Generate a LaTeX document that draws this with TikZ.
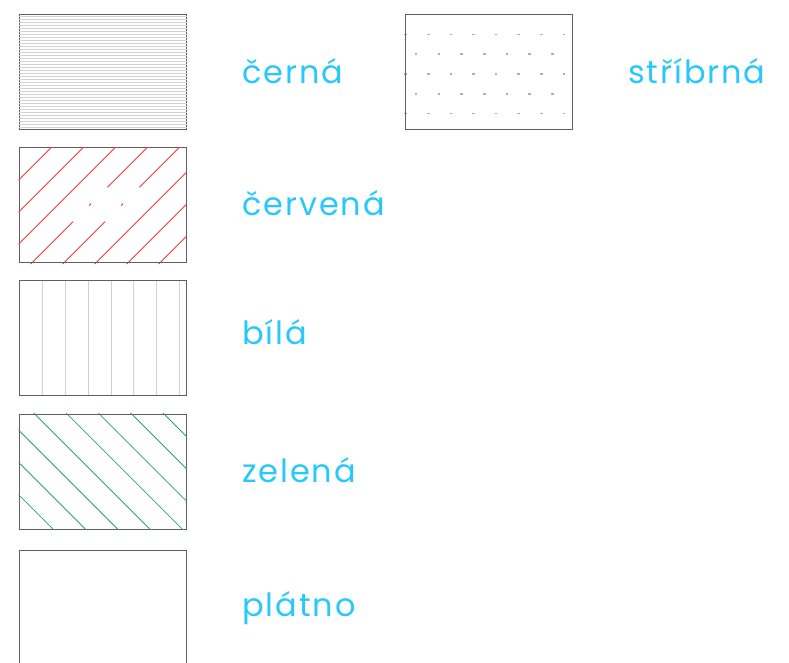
\documentclass[tikz,border=0pt]{standalone}
\usepackage{fontspec}
\setmainfont{Poppins}
\usetikzlibrary{positioning}
\definecolor{popis}{RGB}{40,200,250}
\definecolor{ramec}{RGB}{95,95,95}
\definecolor{cervenacara}{RGB}{255,50,50}
\definecolor{zelenacara}{RGB}{50,155,110}
\definecolor{svetla}{RGB}{210,210,210}
\definecolor{tecka}{RGB}{175,175,175}

\begin{document}
\begin{tikzpicture}[x=1pt,y=-1pt]
  \tikzstyle{box}=[draw=ramec,line width=1pt,minimum width=167pt,minimum height=115pt,inner sep=0pt]
  \tikzstyle{popisek}=[text=popis,font=\fontsize{32}{32}\selectfont\addfontfeature{LetterSpace=6},anchor=base west,inner sep=0pt]
  \useasboundingbox (0,0) rectangle (789,662);
  % stribrna
  \foreach \r in {0,1,2} {
    \foreach \i in {0,...,6}
      \draw[tecka,line width=1.3pt] ({414.8+22.7*\i},{14.3+39.8*\r}) -- ++(2.6,0);
    \foreach \i in {0,...,7}
      \draw[tecka,line width=1.3pt] ({404.4+22.6*\i},{34.2+39.8*\r}) -- ++(2.6,0);
  }
  \node[box] (stribrnabox) at (488.5,71.5) {};
  \node[box] (cernabox) at (102.5,71.5) {};
  \node[box] (cervenabox) at (102.5,205) {};
  \node[box] (bilabox) at (102.5,338) {};
  \node[box] (zelenabox) at (102.5,471.5) {};
  \node[box] (platnobox) at (102.5,607.5) {};
  % cerna
  \foreach \y in {16.5,19.5,...,127.5}
    \draw[gray!35,line width=0.6pt] (cernabox.west |- 0,\y) -- (cernabox.east |- 0,\y);
  % cervena
  \begin{scope}
    \clip (cervenabox.south west) rectangle (cervenabox.north east);
    \foreach \c in {198.7,230.7,262.7,358.7,390.7,422.7}
      \draw[cervenacara,line width=0.8pt] (\c-140,140) -- (\c-270,270);
    \foreach \c in {294.7,326.7}
      \draw[cervenacara,line width=0.8pt] (\c-140,140) -- (\c-187.3,187.3)
        (\c-203.5,203.5) -- (\c-205.5,205.5) (\c-221.7,221.7) -- (\c-270,270);
  \end{scope}
  % bila
  \foreach \i in {0,...,6}
    \draw[svetla,line width=1pt] ({42.7+22.8*\i},281) -- ({42.7+22.8*\i},395);
  % zelena
  \begin{scope}
    \clip (zelenabox.south west) rectangle (zelenabox.north east);
    \foreach \d in {-250,-282.3,-314.6,-346.9,-379.2,-411.5,-443.8,-476.1}
      \draw[zelenacara,line width=0.8pt] (\d+400,400) -- (\d+540,540);
  \end{scope}
  \node[popisek] (cerna) at (242,83.3) {černá};
  \node[popisek] (stribrna) at (628,83.3) {stříbrná};
  \node[popisek] (cervena) at (242,215) {červená};
  \node[popisek] (bila) at (242,344.3) {bílá};
  \node[popisek] (zelena) at (242,482.3) {zelená};
  \node[popisek] (platno) at (242,616) {plátno};
\end{tikzpicture}
\end{document}
